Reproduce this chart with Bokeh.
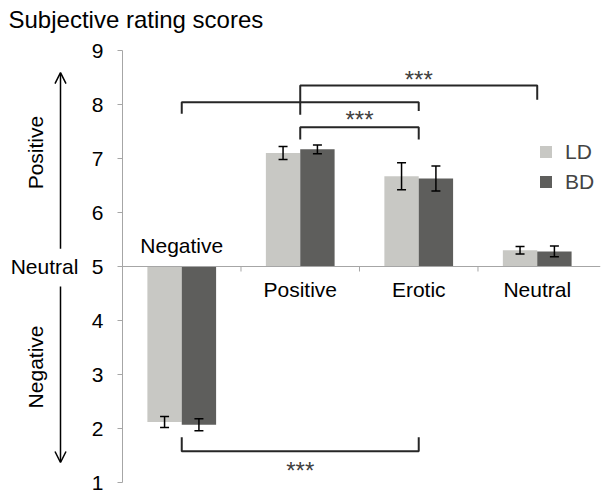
import math
from bokeh.plotting import figure
from bokeh.layouts import column, row
from bokeh.models import (ColumnDataSource, Arrow, OpenHead, Whisker, Legend,
                          LegendItem, FixedTicker, Range1d, TeeHead, Span)
from bokeh.core.properties import value
from bokeh.embed import file_html
from bokeh.resources import INLINE

# ---- data ----
title_text = "Subjective rating scores"
categories = ["Negative", "Positive", "Erotic", "Neutral"]
groups = ["LD", "BD"]
ld_mean = [2.12, 7.10, 6.67, 5.30]
ld_err = [0.10, 0.12, 0.25, 0.07]
bd_mean = [2.07, 7.17, 6.63, 5.28]
bd_err = [0.11, 0.08, 0.23, 0.10]
y_ticks = [1, 2, 3, 4, 5, 6, 7, 8, 9]
neutral_level = 5
side_labels = ["Positive", "Neutral", "Negative"]
side_label_y = [7.11, 5.0, 3.14]

# significance brackets (category index from, to)
br_from = [0, 1, 1, 0]
br_to = [2, 3, 2, 2]
br_level = [8.04, 8.35, 7.58, 1.58]
br_left_end = [7.83, 7.81, 7.35, 1.84]
br_right_end = [7.88, 8.09, 7.35, 1.84]
star_bracket = [1, 2, 3]
star_y = [8.47, 7.73, 1.22]

colors = ["#c8c8c4", "#5e5e5c"]
FONT = "Liberation Sans"
TOP_H = 36
H = 497 - TOP_H


def bare(fig):
    fig.outline_line_color = None
    fig.xgrid.visible = False
    fig.ygrid.visible = False


# ---- title strip ----
tf = figure(width=608, height=TOP_H, output_backend="svg", toolbar_location=None,
            x_range=Range1d(0, 608), y_range=Range1d(TOP_H, 0),
            x_axis_location=None, y_axis_location=None, min_border=0)
bare(tf)
tf.text(x=[8], y=[18.5], text=[title_text], text_align="left", text_baseline="middle",
        text_font=value(FONT), text_font_size="24px", text_color="black")

# ---- main chart ----
p = figure(width=523, height=H, output_backend="svg", toolbar_location=None,
           x_range=Range1d(0.5, 4.534), y_range=Range1d(1, 9),
           x_axis_location=None,
           min_border_left=37, min_border_right=8, min_border_top=14, min_border_bottom=15)
bare(p)

ax = p.yaxis[0]
ax.ticker = FixedTicker(ticks=y_ticks)
ax.axis_line_color = "#a6a6a6"
ax.major_tick_line_color = "#a6a6a6"
ax.minor_tick_line_color = None
ax.major_tick_in = 0
ax.major_tick_out = 5
ax.major_label_standoff = 14
ax.major_label_text_font = FONT
ax.major_label_text_font_size = "21px"
ax.major_label_text_color = "black"

# baseline at neutral (5) and category separators
p.add_layout(Span(location=neutral_level, dimension="width", line_color="#a6a6a6", line_width=1))
sep = [i + 1.5 for i in range(len(categories) - 1)]
p.segment(x0=sep, x1=sep, y0=[neutral_level] * len(sep), y1=[neutral_level - 5 / 54] * len(sep),
          line_color="#a6a6a6", line_width=1)

# bars
half = 0.145
items = []
for g, col, means, errs, off in [("LD", colors[0], ld_mean, ld_err, -half),
                                  ("BD", colors[1], bd_mean, bd_err, half)]:
    src = ColumnDataSource(dict(
        x=[i + 1 + off for i in range(len(categories))],
        top=means,
        lower=[m - e for m, e in zip(means, errs)],
        upper=[m + e for m, e in zip(means, errs)],
    ))
    r = p.vbar(x="x", width=2 * half, bottom=neutral_level, top="top", source=src,
               fill_color=col, line_color=None)
    items.append(LegendItem(label=g, renderers=[r]))
    w = Whisker(base="x", lower="lower", upper="upper", source=src, level="annotation",
                line_color="black", line_width=1.5,
                upper_head=TeeHead(size=9, line_width=1.5, line_color="black"),
                lower_head=TeeHead(size=9, line_width=1.5, line_color="black"))
    p.add_layout(w)

# category labels
lab_y = [5.38 if m < neutral_level else 4.57 for m in ld_mean]
p.text(x=[i + 1 for i in range(len(categories))], y=lab_y, text=categories,
       text_align="center", text_baseline="middle",
       text_font=value(FONT), text_font_size="21px", text_color="black")

# brackets
xs, ys = [], []
for a, b, lv, le, re in zip(br_from, br_to, br_level, br_left_end, br_right_end):
    xs.append([a + 1, a + 1, b + 1, b + 1])
    ys.append([le, lv, lv, re])
p.multi_line(xs=xs, ys=ys, line_color="#262626", line_width=2)
sx = [(br_from[k] + br_to[k]) / 2 + 1 for k in star_bracket]
p.text(x=sx, y=star_y, text=["***"] * len(sx), text_align="center", text_baseline="middle",
       text_font=value(FONT), text_font_size="24px", text_color="#404040")

# legend
legend = Legend(items=items, location=(416, 288), orientation="vertical",
                glyph_width=15, glyph_height=15, label_height=25, spacing=5,
                label_standoff=12, padding=0, margin=0,
                label_text_font=FONT, label_text_font_size="21px",
                border_line_color=None, background_fill_alpha=0)
p.add_layout(legend)

# ---- left annotation strip (shares the y scale) ----
lf = figure(width=85, height=H, output_backend="svg", toolbar_location=None,
            x_range=Range1d(0, 85), y_range=p.y_range,
            x_axis_location=None, y_axis_location=None,
            min_border_left=0, min_border_right=0, min_border_top=14, min_border_bottom=15)
bare(lf)
lf.text(x=[35], y=[side_label_y[0]], text=[side_labels[0]], angle=math.pi / 2,
        text_align="center", text_baseline="middle",
        text_font=value(FONT), text_font_size="21px", text_color="black")
lf.text(x=[44], y=[side_label_y[1]], text=[side_labels[1]],
        text_align="center", text_baseline="middle",
        text_font=value(FONT), text_font_size="21px", text_color="black")
lf.text(x=[35], y=[side_label_y[2]], text=[side_labels[2]], angle=math.pi / 2,
        text_align="center", text_baseline="middle",
        text_font=value(FONT), text_font_size="21px", text_color="black")
lf.add_layout(Arrow(x_start=60, y_start=5.33, x_end=60, y_end=8.59,
                    line_width=1.5, line_color="black",
                    end=OpenHead(size=11, line_width=1.5, line_color="black")))
lf.add_layout(Arrow(x_start=60, y_start=4.63, x_end=60, y_end=1.37,
                    line_width=1.5, line_color="black",
                    end=OpenHead(size=11, line_width=1.5, line_color="black")))

layout = column(tf, row(lf, p, spacing=0), spacing=0)
open("out.html", "w").write(file_html(layout, INLINE))
